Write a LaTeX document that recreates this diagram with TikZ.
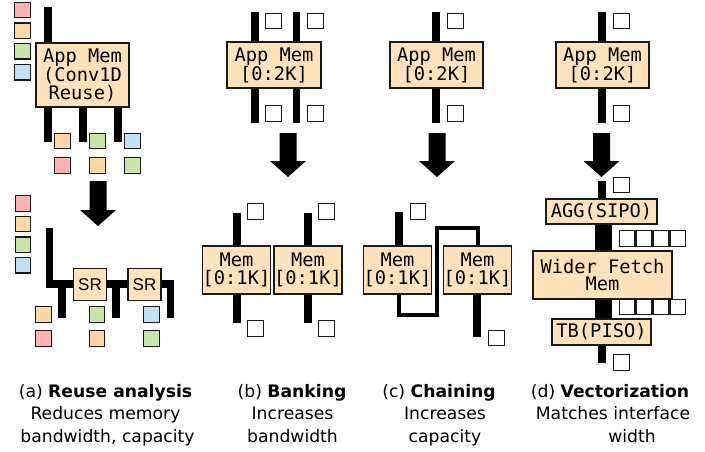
\documentclass[tikz,border=0pt]{standalone}
\usepackage{fontspec}
\setmainfont{DejaVu Sans}
\newfontfamily\monof{DejaVu Sans Mono}
\newfontfamily\srfont{Liberation Sans}
\definecolor{boxfill}{HTML}{FFE2BA}
\definecolor{sqred}{HTML}{FFB3B0}
\definecolor{sqorange}{HTML}{FFD8A6}
\definecolor{sqgreen}{HTML}{C8E6A8}
\definecolor{sqblue}{HTML}{C0E2F4}
\definecolor{edge}{HTML}{1A1A1A}
\tikzset{
  membox/.style={draw=edge, fill=boxfill, line width=1.5pt, inner sep=0pt, align=center,
    font=\monof\fontsize{18.7}{17.8}\selectfont},
  srbox/.style={draw=edge, fill=boxfill, line width=1.5pt, inner sep=0pt,
    minimum width=33pt, minimum height=32pt, font=\srfont\fontsize{17}{18}\selectfont},
  sq/.style={draw=edge, line width=1.4pt, minimum size=15.5pt, inner sep=0pt},
  sqw/.style={sq, fill=white},
  bar/.style={line width=7.5pt, black, line join=miter},
  wbar/.style={line width=17pt, black},
  chain/.style={line width=4pt, black, line join=miter},
  captext/.style={anchor=base, inner sep=0pt, font=\fontsize{17.2}{20}\selectfont},
}
\newcommand{\bigarrow}[3]{% x, ytop, ytip
  \fill[black] (#1-8.5,#2) -- (#1+8.5,#2) -- (#1+8.5,#3-16) -- (#1+18,#3-16)
    -- (#1,#3) -- (#1-18,#3-16) -- (#1-8.5,#3-16) -- cycle;}
\begin{document}
\begin{tikzpicture}[x=1pt,y=-1pt]
\useasboundingbox (0,0) rectangle (705,451);

% ===== (a) upper =====
\node[sq, fill=sqred]    (aq1) at (22.5,10) {};
\node[sq, fill=sqorange] (aq2) at (22.5,30.7) {};
\node[sq, fill=sqgreen]  (aq3) at (22.5,51.4) {};
\node[sq, fill=sqblue]   (aq4) at (22.5,72.1) {};
\node[membox, minimum width=93pt, minimum height=64pt] (A1) at (82.5,75) {App Mem\\(Conv1D\\Reuse)};
\coordinate (a1in) at (48,7);
\draw[bar] (a1in) -- (a1in |- A1.north);
\foreach \x/\n in {48/1,83/2,118/3}{
  \coordinate (a1o\n) at (\x,142);
  \draw[bar] (a1o\n |- A1.south) -- (a1o\n);
}
\node[sq, fill=sqorange] (ar11) at (62.5,141) {};
\node[sq, fill=sqgreen]  (ar12) at (97.5,141) {};
\node[sq, fill=sqblue]   (ar13) at (132.5,141) {};
\node[sq, fill=sqred]    (ar21) at (62.5,165.5) {};
\node[sq, fill=sqorange] (ar22) at (97.5,165.5) {};
\node[sq, fill=sqgreen]  (ar23) at (132.5,165.5) {};
\bigarrow{98}{181}{226}

% ===== (a) lower =====
\node[sq, fill=sqred]    (bq1) at (23,203.5) {};
\node[sq, fill=sqorange] (bq2) at (23,224) {};
\node[sq, fill=sqgreen]  (bq3) at (23,244.7) {};
\node[sq, fill=sqblue]   (bq4) at (23,265.4) {};
\coordinate (lin) at (49.5,228);
\coordinate (lcorner) at (49.5,284);
\coordinate (rcorner) at (170.5,284);
\coordinate (rend) at (170.5,318);
\draw[bar] (lin) -- (lcorner) -- (rcorner) -- (rend);
\coordinate (s1) at (62,284);  \coordinate (s1e) at (62,318);
\coordinate (s2) at (116,284); \coordinate (s2e) at (116,318);
\draw[bar] (s1) -- (s1e);
\draw[bar] (s2) -- (s2e);
\node[srbox] (SR1) at (90,284.5) {SR};
\node[srbox] (SR2) at (144.5,284.5) {SR};
\node[sq, fill=sqorange] (cr11) at (43.5,314.5) {};
\node[sq, fill=sqgreen]  (cr12) at (97,314.5) {};
\node[sq, fill=sqblue]   (cr13) at (151.5,314.5) {};
\node[sq, fill=sqred]    (cr21) at (43.5,338.5) {};
\node[sq, fill=sqorange] (cr22) at (97,338.5) {};
\node[sq, fill=sqgreen]  (cr23) at (151.5,338.5) {};

% ===== (b) =====
\node[membox, minimum width=94pt, minimum height=46pt] (B1) at (274,65) {App Mem\\{[}0:2K{]}};
\foreach \x/\n in {255/1,296.5/2}{
  \coordinate (bt\n) at (\x,12);
  \coordinate (bb\n) at (\x,123);
  \draw[bar] (bt\n) -- (bt\n |- B1.north);
  \draw[bar] (bb\n |- B1.south) -- (bb\n);
}
\node[sqw] (bs1) at (273.5,21) {};
\node[sqw] (bs2) at (315.5,21) {};
\node[sqw] (bs3) at (273.5,113.5) {};
\node[sqw] (bs4) at (315.5,113.5) {};
\bigarrow{288}{133}{177}
\node[membox, minimum width=67pt, minimum height=48pt] (Bm1) at (236.5,270) {Mem\\{[}0:1K{]}};
\node[membox, minimum width=66pt, minimum height=48pt] (Bm2) at (308,270) {Mem\\{[}0:1K{]}};
\foreach \x/\n in {237/1,308/2}{
  \coordinate (bmt\n) at (\x,213);
  \coordinate (bmb\n) at (\x,323);
  \draw[bar] (bmt\n) -- (bmt\n |- Bm1.north);
  \draw[bar] (bmb\n |- Bm1.south) -- (bmb\n);
}
\node[sqw] (bms1) at (255.5,211.5) {};
\node[sqw] (bms2) at (326.5,211.5) {};
\node[sqw] (bms3) at (255.5,328.5) {};
\node[sqw] (bms4) at (326.5,328.5) {};

% ===== (c) =====
\node[membox, minimum width=93pt, minimum height=46pt] (C1) at (436.5,65) {App Mem\\{[}0:2K{]}};
\coordinate (ct) at (436,12);
\coordinate (cb) at (436,123);
\draw[bar] (ct) -- (ct |- C1.north);
\draw[bar] (cb |- C1.south) -- (cb);
\node[sqw] (cs1) at (455.5,21) {};
\node[sqw] (cs2) at (455.5,113.5) {};
\bigarrow{437}{133}{177}
\node[membox, minimum width=67pt, minimum height=48pt] (Cm1) at (397.5,270) {Mem\\{[}0:1K{]}};
\node[membox, minimum width=65pt, minimum height=48pt] (Cm2) at (477.5,270) {Mem\\{[}0:1K{]}};
\coordinate (cmt) at (399,212);
\draw[bar] (cmt) -- (cmt |- Cm1.north);
\node[sqw] (cms1) at (418,211.5) {};
\draw[chain] ([xshift=1.5pt]Cm1.south) -- (399,315) -- (437,315) -- (437,228) -- (477.5,228) -- (Cm2.north);
\coordinate (cmb) at (477,337);
\draw[bar] (cmb |- Cm2.south) -- (cmb);
\node[sqw] (cms2) at (496.5,338) {};

% ===== (d) =====
\node[membox, minimum width=93pt, minimum height=46pt] (D1) at (602.5,65) {App Mem\\{[}0:2K{]}};
\coordinate (dt) at (602,12);
\coordinate (db) at (602,123);
\draw[bar] (dt) -- (dt |- D1.north);
\draw[bar] (db |- D1.south) -- (db);
\node[sqw] (ds1) at (621.5,21) {};
\node[sqw] (ds2) at (621.5,113.5) {};
\bigarrow{601.5}{133}{177}
\node[membox, minimum width=111pt, minimum height=25pt] (AGG) at (601.5,211.5) {AGG(SIPO)};
\node[membox, minimum width=139pt, minimum height=48pt] (WF) at (602.5,275) {Wider Fetch\\Mem};
\node[membox, minimum width=99pt, minimum height=26pt] (TB) at (601.5,332) {TB(PISO)};
\coordinate (dat) at (602,181);
\draw[bar] (dat) -- (dat |- AGG.north);
\draw[wbar] ([xshift=2pt]AGG.south) -- ([xshift=1pt]WF.north);
\draw[wbar] ([xshift=1pt]WF.south) -- ([xshift=2pt]TB.north);
\coordinate (dtb) at (602,363);
\draw[bar] (dtb |- TB.south) -- (dtb);
\node[sqw] (ds3) at (621.5,185) {};
\node[sqw] (ds4) at (621.5,362.5) {};
\foreach \i in {0,1,2,3}{
  \node[sqw, minimum width=15.5pt, minimum height=15.5pt] (dv1\i) at (627.4+16.75*\i,238.5) {};
  \node[sqw, minimum width=15.5pt, minimum height=15pt] (dv2\i) at (627.4+16.75*\i,307) {};
}

% ===== captions =====
\node[captext] (capa1) at (105.5,397) {(a) \textbf{Reuse analysis}};
\node[captext] (capa2) at (105.5,419) {Reduces memory};
\node[captext] (capa3) at (107.5,442) {bandwidth, capacity};
\node[captext] (capb1) at (292,397) {(b) \textbf{Banking}};
\node[captext] (capb2) at (292.5,419) {Increases};
\node[captext] (capb3) at (292.5,442) {bandwidth};
\node[captext] (capc1) at (439,397) {(c) \textbf{Chaining}};
\node[captext] (capc2) at (445,419) {Increases};
\node[captext] (capc3) at (445,442) {capacity};
\node[captext] (capd1) at (610,397) {(d) \textbf{Vectorization}};
\node[captext] (capd2) at (613,419) {Matches interface};
\node[captext] (capd3) at (632,442) {width};
\end{tikzpicture}
\end{document}
